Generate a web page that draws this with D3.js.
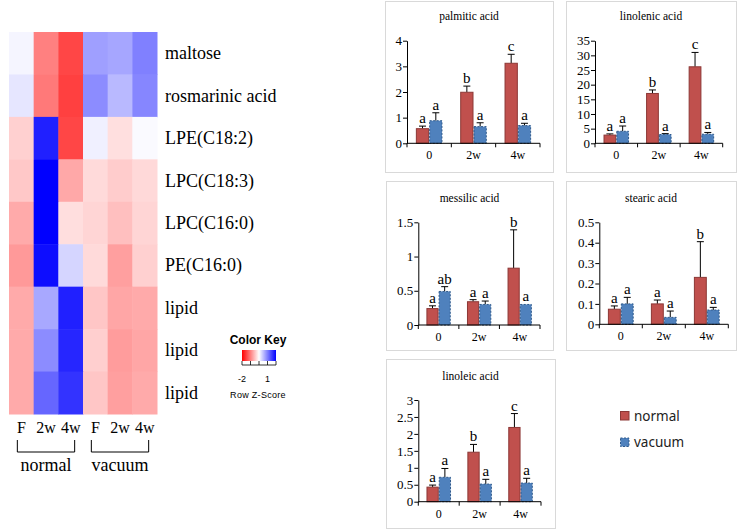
<!DOCTYPE html>
<html><head><meta charset="utf-8">
<script src="https://cdn.jsdelivr.net/npm/d3@7"></script>
<style>
html,body{margin:0;padding:0;background:#fff;}
svg{display:block;}
</style></head>
<body>
<script>
// ---------------- DATA ----------------
const heatRows = ["maltose","rosmarinic acid","LPE(C18:2)","LPC(C18:3)","LPC(C16:0)","PE(C16:0)","lipid","lipid","lipid"];
const heatCols = ["F","2w","4w","F","2w","4w"];
const heatGroups = ["normal","vacuum"];
// row z-scores (columns: normal F,2w,4w, vacuum F,2w,4w)
const zMaltose     = [0.08,-1.00,-1.45, 0.75, 0.70, 1.00];
const zRosmarinic  = [0.20,-1.05,-1.50, 0.90, 0.55, 0.95];
const zLPE182      = [-0.37, 1.75,-1.45, 0.12,-0.25, 0.04];
const zLPC183      = [-0.43, 2.00,-0.68,-0.29,-0.40,-0.30];
const zLPC160      = [-0.67, 2.00,-0.26,-0.33,-0.50,-0.33];
const zPE160       = [-0.80, 1.90, 0.33,-0.29,-0.75,-0.37];
const zLipid1      = [-0.67, 0.68, 1.75,-0.45,-0.70,-0.67];
const zLipid2      = [-0.67, 0.90, 1.70,-0.38,-0.78,-0.70];
const zLipid3      = [-0.67, 1.20, 1.60,-0.45,-0.75,-0.67];
const colorKeyTicks = [-2,-1,0,1,2];
const colorKeyLabels = ["-2","1"];

const timeCategories = ["0","2w","4w"];
const seriesNames = ["normal","vacuum"];

const palmiticNormal = [0.57,1.99,3.12], palmiticNormalErr = [0.10,0.24,0.35];
const palmiticVacuum = [0.88,0.65,0.69], palmiticVacuumErr = [0.31,0.15,0.09];
const palmiticLetters = [["a","b","c"],["a","a","a"]];
const palmiticTicks = [0,1,2,3,4];

const linolenicNormal = [2.8,17.0,26.1], linolenicNormalErr = [0.4,1.2,4.9];
const linolenicVacuum = [4.1,3.0,3.1], linolenicVacuumErr = [1.8,0.3,0.6];
const linolenicLetters = [["a","b","c"],["a","a","a"]];
const linolenicTicks = [0,5,10,15,20,25,30,35];

const messilicNormal = [0.24,0.34,0.83], messilicNormalErr = [0.04,0.03,0.56];
const messilicVacuum = [0.49,0.30,0.30], messilicVacuumErr = [0.07,0.05,0];
const messilicLetters = [["a","a","b"],["ab","a","a"]];
const messilicTicks = [0,0.5,1,1.5];

const stearicNormal = [0.074,0.10,0.23], stearicNormalErr = [0.016,0.019,0.175];
const stearicVacuum = [0.10,0.034,0.07], stearicVacuumErr = [0.032,0.031,0.013];
const stearicLetters = [["a","a","b"],["a","a","a"]];
const stearicTicks = [0,0.1,0.2,0.3,0.4,0.5];

const linoleicNormal = [0.43,1.46,2.19], linoleicNormalErr = [0.06,0.23,0.41];
const linoleicVacuum = [0.72,0.52,0.55], linoleicVacuumErr = [0.26,0.14,0.14];
const linoleicLetters = [["a","b","c"],["a","a","a"]];
const linoleicTicks = [0,0.5,1,1.5,2,2.5,3];

// ---------------- DRAW ----------------
const W = 738, H = 530;
const svg = d3.select("body").append("svg").attr("width", W).attr("height", H);
const SERIF = "'Liberation Serif','Times New Roman',serif";
const SANS = "'Liberation Sans',Arial,sans-serif";

// ---- heatmap ----
const zRows = [zMaltose,zRosmarinic,zLPE182,zLPC183,zLPC160,zPE160,zLipid1,zLipid2,zLipid3];
const color = d3.scaleLinear().domain([-2,0,2]).range(["#ff0000","#ffffff","#0000ff"]).clamp(true);
const hx = d3.scaleBand().domain(d3.range(heatCols.length)).range([9,157]);
const hy = d3.scaleBand().domain(d3.range(heatRows.length)).range([32,414]);
const hm = svg.append("g");
zRows.forEach((row, r) => {
  row.forEach((v, c) => {
    hm.append("rect").attr("x", hx(c)).attr("y", hy(r))
      .attr("width", hx.bandwidth()+0.5).attr("height", hy.bandwidth()+0.5)
      .attr("fill", color(v));
  });
});
hm.selectAll("text.rl").data(heatRows).join("text").attr("class","rl")
  .attr("x", 165).attr("y", (d,i)=>hy(i)+hy.bandwidth()/2+6)
  .attr("font-family", SERIF).attr("font-size", 18).attr("fill","#000").text(d=>d);
hm.selectAll("text.cl").data(heatCols).join("text").attr("class","cl")
  .attr("x", (d,i)=>hx(i)+hx.bandwidth()/2).attr("y", 433)
  .attr("text-anchor","middle").attr("font-family", SERIF).attr("font-size", 16).text(d=>d);
heatGroups.forEach((g, gi) => {
  const xa = hx(gi*3)+hx.bandwidth()/2 - 4;
  const xb = hx(gi*3+2)+hx.bandwidth()/2 + 4;
  hm.append("path").attr("d", `M${xa},440V452H${xb}V440`).attr("fill","none").attr("stroke","#000").attr("stroke-width",1);
  hm.append("text").attr("x",(xa+xb)/2).attr("y",471).attr("text-anchor","middle")
    .attr("font-family", SERIF).attr("font-size", 18).text(g);
});

// ---- color key ----
const ck = svg.append("g");
const defs = svg.append("defs");
const grad = defs.append("linearGradient").attr("id","ckgrad");
[-2,-1,0,1,2].forEach(v => grad.append("stop").attr("offset", (v+2)/4).attr("stop-color", color(v)));
const kx = d3.scaleLinear().domain([-2,2]).range([242,276]);
ck.append("text").attr("x",258).attr("y",344).attr("text-anchor","middle")
  .attr("font-family",SANS).attr("font-weight","bold").attr("font-size",12).text("Color Key");
ck.append("rect").attr("x",kx(-2)).attr("y",350).attr("width",kx(2)-kx(-2)).attr("height",11).attr("fill","url(#ckgrad)");
ck.append("line").attr("x1",kx(-2)).attr("x2",kx(2)).attr("y1",365).attr("y2",365).attr("stroke","#000").attr("stroke-width",0.8);
ck.selectAll("line.kt").data(colorKeyTicks).join("line").attr("class","kt")
  .attr("x1",d=>kx(d)).attr("x2",d=>kx(d)).attr("y1",361).attr("y2",365).attr("stroke","#000").attr("stroke-width",0.8);
ck.selectAll("text.kl").data(colorKeyLabels).join("text").attr("class","kl")
  .attr("x",d=>kx(+d)).attr("y",382).attr("text-anchor","middle")
  .attr("font-family",SANS).attr("font-size",9).text(d=>d);
ck.append("text").attr("x",258).attr("y",398).attr("text-anchor","middle")
  .attr("font-family",SANS).attr("font-size",9).attr("letter-spacing",0.3).text("Row Z-Score");

// ---- bar panels ----
const RED = "#C0504D", RED_S = "#8C3836", BLUE = "#4F81BD", BLUE_S = "#2F5A8C";
const panels = [
  {title:"palmitic acid", n:palmiticNormal, ne:palmiticNormalErr, v:palmiticVacuum, ve:palmiticVacuumErr, L:palmiticLetters, ticks:palmiticTicks,
   box:[385,1,553,172], ax:[407,540], ay:[143.3,40.7], ty:20},
  {title:"linolenic acid", n:linolenicNormal, ne:linolenicNormalErr, v:linolenicVacuum, ve:linolenicVacuumErr, L:linolenicLetters, ticks:linolenicTicks,
   box:[566,1,736,172], ax:[595,722.7], ay:[143.3,40.7], ty:20},
  {title:"messilic acid", n:messilicNormal, ne:messilicNormalErr, v:messilicVacuum, ve:messilicVacuumErr, L:messilicLetters, ticks:messilicTicks,
   box:[386,181,553,350], ax:[418.3,540], ay:[325,222.3], ty:202},
  {title:"stearic acid", n:stearicNormal, ne:stearicNormalErr, v:stearicVacuum, ve:stearicVacuumErr, L:stearicLetters, ticks:stearicTicks,
   box:[566,181,736,350], ax:[599.3,728.3], ay:[324.3,222.3], ty:202},
  {title:"linoleic acid", n:linoleicNormal, ne:linoleicNormalErr, v:linoleicVacuum, ve:linoleicVacuumErr, L:linoleicLetters, ticks:linoleicTicks,
   box:[386,359,555,528], ax:[418.3,541], ay:[501.7,400], ty:380}
];

panels.forEach(p => {
  const g = svg.append("g");
  const [bx0,by0,bx1,by1] = p.box;
  g.append("rect").attr("x",bx0+0.5).attr("y",by0+0.5).attr("width",bx1-bx0).attr("height",by1-by0)
    .attr("fill","#fff").attr("stroke","#d9d9d9").attr("stroke-width",1);
  g.append("text").attr("x",(bx0+bx1)/2).attr("y",p.ty).attr("text-anchor","middle")
    .attr("font-family",SERIF).attr("font-size",11.5).text(p.title);

  const x = d3.scaleBand().domain(timeCategories).range(p.ax).paddingInner(0).paddingOuter(0);
  const y = d3.scaleLinear().domain([0, p.ticks[p.ticks.length-1]]).range(p.ay);

  // y axis
  const yAxis = d3.axisLeft(y).tickValues(p.ticks).tickSize(4).tickSizeOuter(0).tickFormat(d3.format("~g"));
  const ya = g.append("g").attr("transform",`translate(${p.ax[0]},0)`).call(yAxis)
    .attr("font-family",SERIF).attr("font-size",13);
  ya.select(".domain").attr("stroke","#000");
  ya.selectAll(".tick line").attr("stroke","#000");
  ya.selectAll("text").attr("fill","#000").attr("x",-5);

  const bw = x.bandwidth()*0.3;
  const series = [
    {vals:p.n, errs:p.ne, fill:RED, stroke:RED_S, dash:null, off:-bw, letters:p.L[0]},
    {vals:p.v, errs:p.ve, fill:BLUE, stroke:BLUE_S, dash:"2,1.5", off:0, letters:p.L[1]}
  ];
  series.forEach(s => {
    timeCategories.forEach((c,i) => {
      const cx = x(c)+x.bandwidth()/2 + s.off;
      const top = y(s.vals[i]);
      const etop = y(s.vals[i]+s.errs[i]);
      if (s.errs[i] > 0) {
        g.append("line").attr("x1",cx+bw/2).attr("x2",cx+bw/2).attr("y1",top).attr("y2",etop).attr("stroke","#000").attr("stroke-width",1);
        g.append("line").attr("x1",cx+bw/2-3.5).attr("x2",cx+bw/2+3.5).attr("y1",etop).attr("y2",etop).attr("stroke","#000").attr("stroke-width",1);
      }
      g.append("rect").attr("x",cx+0.5).attr("y",top).attr("width",bw-1).attr("height",y(0)-top)
        .attr("fill",s.fill).attr("stroke",s.stroke).attr("stroke-width",1)
        .attr("stroke-dasharray",s.dash);
      g.append("text").attr("x",cx+bw/2).attr("y",etop-3).attr("text-anchor","middle")
        .attr("font-family",SERIF).attr("font-size",15).text(s.letters[i]);
    });
  });

  // x axis
  g.append("line").attr("x1",p.ax[0]).attr("x2",p.ax[1]).attr("y1",y(0)).attr("y2",y(0)).attr("stroke","#000");
  const bounds = timeCategories.map(c=>x(c)).concat([p.ax[1]]);
  g.selectAll("line.xt").data(bounds).join("line").attr("class","xt")
    .attr("x1",d=>d).attr("x2",d=>d).attr("y1",y(0)).attr("y2",y(0)+4).attr("stroke","#000");
  g.selectAll("text.xl").data(timeCategories).join("text").attr("class","xl")
    .attr("x",d=>x(d)+x.bandwidth()/2).attr("y",y(0)+16).attr("text-anchor","middle")
    .attr("font-family",SERIF).attr("font-size",12).text(d=>d);
});

// ---- legend ----
const lg = svg.append("g");
const legendColors = [[RED,RED_S,null],[BLUE,BLUE_S,"2,1.5"]];
seriesNames.forEach((nm,i) => {
  const yy = 411 + i*26.5;
  lg.append("rect").attr("x",620.5).attr("y",yy+0.5).attr("width",8.5).attr("height",8.5)
    .attr("fill",legendColors[i][0]).attr("stroke",legendColors[i][1]).attr("stroke-dasharray",legendColors[i][2]);
  lg.append("text").attr("x",634).attr("y",yy+9.5).attr("font-family","'Noto Sans','DejaVu Sans',sans-serif")
    .attr("font-size",13.5).attr("fill","#222").text(nm);
});
</script>
</body></html>
